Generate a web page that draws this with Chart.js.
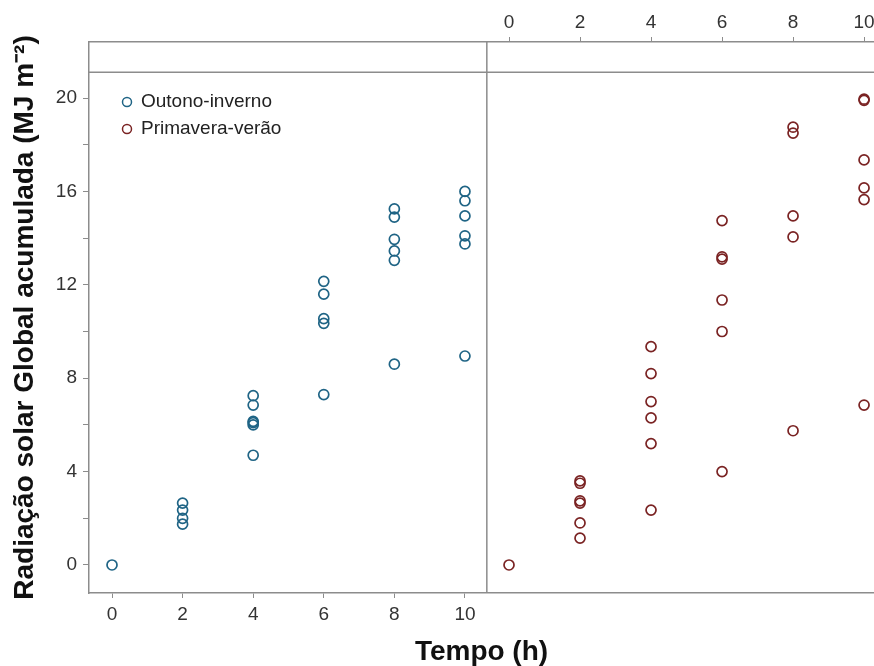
<!DOCTYPE html>
<html>
<head>
<meta charset="utf-8">
<script src="https://cdn.jsdelivr.net/npm/chart.js@4"></script>
<style>
  html, body { margin: 0; padding: 0; background: #fff; }
  canvas { display: block; }
</style>
</head>
<body>
<canvas id="radChart" width="874" height="666"></canvas>
<script>
// Outono-inverno (left panel, bottom axis)
const outonoTempo = [0, 2, 2, 2, 2, 4, 4, 4, 4, 4, 4, 6, 6, 6, 6, 6, 8, 8, 8, 8, 8, 8, 10, 10, 10, 10, 10, 10];
const outonoRad = [0, 2.65, 2.35, 2.0, 1.75, 7.25, 6.85, 6.15, 6.1, 6.0, 4.7, 12.15, 11.6, 10.55, 10.35, 7.3,
    15.25, 14.9, 13.95, 13.45, 13.05, 8.6, 16.0, 15.6, 14.95, 14.1, 13.75, 8.95];

// Primavera-verão (right panel, top axis)
const primaveraTempo = [0, 2, 2, 2, 2, 2, 2, 4, 4, 4, 4, 4, 4, 6, 6, 6, 6, 6, 6, 8, 8, 8, 8, 8, 10, 10, 10, 10, 10, 10];
const primaveraRad = [0, 3.6, 3.5, 2.75, 2.65, 1.8, 1.15, 9.35, 8.2, 7.0, 6.3, 5.2, 2.35, 14.75, 13.2, 13.1, 11.35, 10.0, 4.0,
    18.75, 18.5, 14.95, 14.05, 5.75, 19.95, 19.9, 17.35, 16.15, 15.65, 6.85];

const seriesLabels = ['Outono-inverno', 'Primavera-verão'];
const xTicks = [0, 2, 4, 6, 8, 10];
const yTicks = [0, 2, 4, 6, 8, 10, 12, 14, 16, 18, 20];

const toPoints = (xs, ys) => xs.map((x, i) => ({ x: x, y: ys[i] }));

const lineColor = '#8c8c8c';
const tickFont = { family: '"Liberation Sans", Arial, sans-serif', size: 19 };
const titleFont = { family: '"Liberation Sans", Arial, sans-serif', size: 28, weight: 'bold', lineHeight: 1 };

// panel divider and strip line (in data units of the left panel)
const panelSplit = 10.62;
const stripLine = 21.1;

// keep the plot area fixed: no extra room for overhanging labels
function fixBox(size) {
    return s => {
        if (s.isHorizontal()) s.height = size; else s.width = size;
        s.paddingLeft = 0;
        s.paddingRight = 0;
        s.paddingTop = 0;
        s.paddingBottom = 0;
    };
}

const panelFrame = {
    id: 'panelFrame',
    beforeDatasetsDraw(chart) {
        const { ctx, chartArea, scales } = chart;
        const xd = scales.x.getPixelForValue(panelSplit);
        const ys = scales.y.getPixelForValue(stripLine);
        ctx.save();
        ctx.strokeStyle = lineColor;
        ctx.lineWidth = 1.5;
        ctx.beginPath();
        ctx.moveTo(xd, chartArea.top);
        ctx.lineTo(xd, chartArea.bottom);
        ctx.moveTo(chartArea.left, ys);
        ctx.lineTo(chartArea.right, ys);
        ctx.stroke();
        ctx.restore();
    }
};

const legendBox = {
    id: 'legendBox',
    afterDatasetsDraw(chart) {
        const { ctx, chartArea } = chart;
        ctx.save();
        ctx.font = '19px "Liberation Sans", Arial, sans-serif';
        ctx.textBaseline = 'middle';
        chart.data.datasets.forEach((ds, i) => {
            const x = chartArea.left + 38;
            const y = chartArea.top + 60 + i * 27;
            ctx.beginPath();
            ctx.arc(x, y, 4.5, 0, Math.PI * 2);
            ctx.strokeStyle = ds.borderColor;
            ctx.lineWidth = 1.5;
            ctx.stroke();
            ctx.fillStyle = '#222';
            ctx.fillText(ds.label, x + 14, y);
        });
        ctx.restore();
    }
};

new Chart(document.getElementById('radChart'), {
    type: 'scatter',
    data: {
        datasets: [
            {
                label: seriesLabels[0],
                data: toPoints(outonoTempo, outonoRad),
                xAxisID: 'x',
                yAxisID: 'y',
                borderColor: '#1f6485',
                backgroundColor: 'rgba(0,0,0,0)',
                pointRadius: 5,
                pointBorderWidth: 1.7,
                pointHoverRadius: 5
            },
            {
                label: seriesLabels[1],
                data: toPoints(primaveraTempo, primaveraRad),
                xAxisID: 'x2',
                yAxisID: 'y',
                borderColor: '#7a2323',
                backgroundColor: 'rgba(0,0,0,0)',
                pointRadius: 5,
                pointBorderWidth: 1.7,
                pointHoverRadius: 5
            }
        ]
    },
    options: {
        responsive: false,
        animation: false,
        events: [],
        layout: { padding: 0, autoPadding: false },
        plugins: {
            legend: { display: false },
            tooltip: { enabled: false }
        },
        scales: {
            x: {
                type: 'linear',
                position: 'bottom',
                min: -0.652,
                max: 21.59,
                afterBuildTicks: s => { s.ticks = xTicks.map(v => ({ value: v })); },
                afterFit: fixBox(73),
                grid: { drawOnChartArea: false, drawTicks: true, tickLength: 5, color: lineColor },
                border: { display: true, color: lineColor, width: 1.5 },
                ticks: { font: tickFont, color: '#333', padding: 5, autoSkip: false, maxRotation: 0 },
                title: { display: true, text: 'Tempo (h)', font: titleFont, color: '#111', padding: 0 }
            },
            x2: {
                type: 'linear',
                position: 'top',
                min: -11.83,
                max: 10.28,
                afterBuildTicks: s => { s.ticks = xTicks.map(v => ({ value: v })); },
                afterFit: fixBox(42),
                grid: { drawOnChartArea: false, drawTicks: true, tickLength: 5, color: lineColor },
                border: { display: true, color: lineColor, width: 1.5 },
                ticks: { font: tickFont, color: '#333', padding: 3, autoSkip: false, maxRotation: 0 }
            },
            y: {
                type: 'linear',
                position: 'left',
                min: -1.2,
                max: 22.4,
                afterBuildTicks: s => { s.ticks = yTicks.map(v => ({ value: v })); },
                afterFit: fixBox(89),
                grid: { drawOnChartArea: false, drawTicks: true, tickLength: 6, color: lineColor },
                border: { display: true, color: lineColor, width: 1.5 },
                ticks: {
                    font: tickFont,
                    color: '#333',
                    padding: 6,
                    autoSkip: false,
                    callback: v => (v % 4 === 0 ? v : '')
                },
                title: {
                    display: true,
                    text: 'Radiação solar Global acumulada (MJ m⁻²)',
                    font: titleFont,
                    color: '#111',
                    padding: { top: 11, bottom: 0 }
                }
            }
        }
    },
    plugins: [panelFrame, legendBox]
});
</script>
</body>
</html>
